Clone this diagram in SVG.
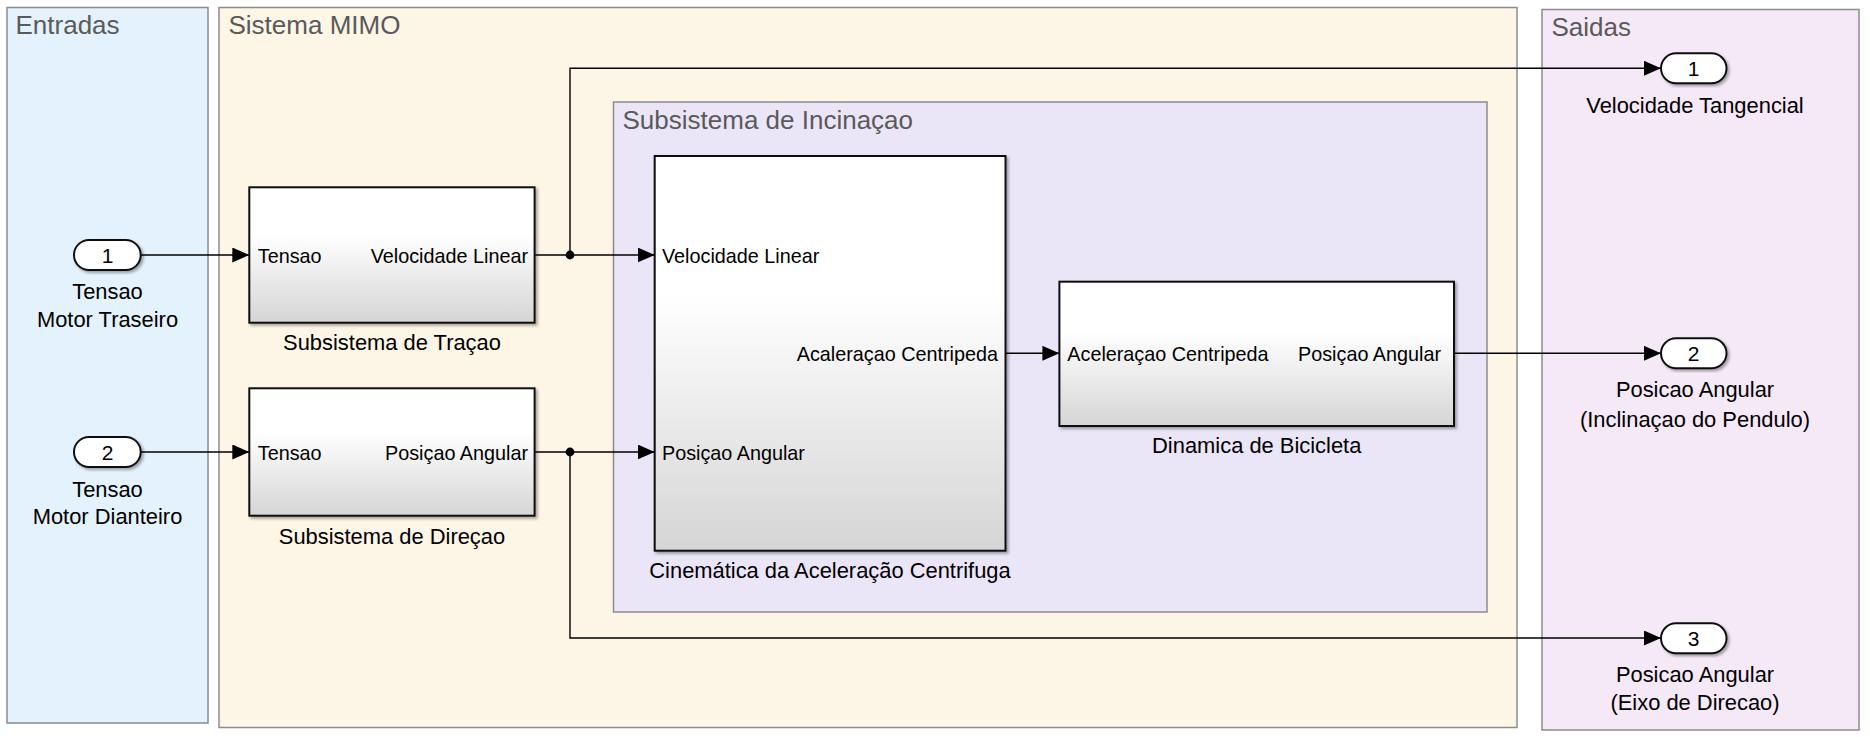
<svg xmlns="http://www.w3.org/2000/svg" width="1870" height="737" viewBox="0 0 1870 737">
<defs>
<style>
text{font-family:"Liberation Sans",Arial,sans-serif;fill:#000}
.title{font-size:26px;fill:#5a5a5a}
.lbl{font-size:21.9px;text-anchor:middle}
.port{font-size:19.8px}
.num{font-size:21px;text-anchor:middle}
.r{text-anchor:end}
.panel{stroke:#8c8c8c;stroke-width:1.5}
.blk{fill:url(#bg);stroke:#111;stroke-width:2;filter:url(#sh)}
.pill{fill:#fff;stroke:#111;stroke-width:2;filter:url(#sh)}
.wire{fill:none;stroke:#000;stroke-width:1.4}
.arr{marker-end:url(#ah)}
</style>
<linearGradient id="bg" x1="0" y1="0" x2="0" y2="1">
<stop offset="0" stop-color="#ffffff"/>
<stop offset="0.35" stop-color="#ffffff"/>
<stop offset="1" stop-color="#d5d5d5"/>
</linearGradient>
<filter id="sh" x="-5%" y="-5%" width="115%" height="120%">
<feDropShadow dx="2" dy="2" stdDeviation="1.5" flood-color="#000" flood-opacity="0.35"/>
</filter>
<marker id="ah" markerUnits="userSpaceOnUse" markerWidth="18" markerHeight="16" refX="17" refY="7.5" orient="auto">
<path d="M0,0 L17,7.5 L0,15 z" fill="#000"/>
</marker>
</defs>

<g id="panel-entradas">
<rect class="panel" x="7" y="7.5" width="201" height="715.5" fill="#e4f2fd"/>
<text class="title" x="15.5" y="33.5">Entradas</text>
</g>
<g id="panel-mimo">
<rect class="panel" x="219" y="7.5" width="1298" height="720" fill="#fdf5e6"/>
<text class="title" x="228.5" y="33.5">Sistema MIMO</text>
</g>
<g id="panel-saidas">
<rect class="panel" x="1542" y="9.5" width="317" height="720.5" fill="#f5e9f8"/>
<text class="title" x="1551.5" y="35.5">Saidas</text>
</g>
<g id="panel-inclinacao">
<rect class="panel" x="613.5" y="102" width="873.5" height="510" fill="#eae6f8"/>
<text class="title" x="622.5" y="128.5">Subsistema de Incinaçao</text>
</g>

<g id="connectors">
<path class="wire arr" d="M140.7,255 H249.3"/>
<path class="wire arr" d="M140.7,452 H249.3"/>
<path class="wire arr" d="M534.6,255 H654.7"/>
<path class="wire arr" d="M570,255 V68.3 H1661"/>
<path class="wire arr" d="M534.6,452 H654.7"/>
<path class="wire arr" d="M570,452 V638 H1661"/>
<path class="wire arr" d="M1005.5,353.3 H1059.4"/>
<path class="wire arr" d="M1454,353.3 H1661"/>
<circle cx="570" cy="255" r="4.4" fill="#000"/>
<circle cx="570" cy="452" r="4.4" fill="#000"/>
</g>

<g id="in1">
<rect class="pill" x="74" y="240" width="66.7" height="30" rx="15" ry="15"/>
<text class="num" x="107.5" y="262.5">1</text>
<text class="lbl" x="107.5" y="299">Tensao</text>
<text class="lbl" x="107.5" y="326.5">Motor Traseiro</text>
</g>
<g id="in2">
<rect class="pill" x="74" y="437" width="66.7" height="30" rx="15" ry="15"/>
<text class="num" x="107.5" y="459.5">2</text>
<text class="lbl" x="107.5" y="496.5">Tensao</text>
<text class="lbl" x="107.5" y="524">Motor Dianteiro</text>
</g>

<g id="tracao">
<rect class="blk" x="249.3" y="187.3" width="285.3" height="135.4"/>
<text class="port" x="257.8" y="262.5">Tensao</text>
<text class="port r" x="528" y="262.5">Velocidade Linear</text>
<text class="lbl" x="392" y="350">Subsistema de Traçao</text>
</g>
<g id="direcao">
<rect class="blk" x="249.3" y="388.3" width="285.3" height="127.4"/>
<text class="port" x="257.8" y="459.5">Tensao</text>
<text class="port r" x="528" y="459.5">Posiçao Angular</text>
<text class="lbl" x="392" y="544">Subsistema de Direçao</text>
</g>
<g id="cinematica">
<rect class="blk" x="654.7" y="156" width="350.8" height="394.7"/>
<text class="port" x="662" y="262.5">Velocidade Linear</text>
<text class="port" x="662" y="459.5">Posiçao Angular</text>
<text class="port r" x="998" y="360.7">Acaleraçao Centripeda</text>
<text class="lbl" x="830" y="578.3">Cinemática da Aceleração Centrifuga</text>
</g>
<g id="dinamica">
<rect class="blk" x="1059.4" y="281.7" width="394.6" height="144.3"/>
<text class="port" x="1067.3" y="360.7">Aceleraçao Centripeda</text>
<text class="port r" x="1441" y="360.7">Posiçao Angular</text>
<text class="lbl" x="1256.7" y="453.3">Dinamica de Bicicleta</text>
</g>

<g id="out1">
<rect class="pill" x="1661" y="53.3" width="65.5" height="30" rx="15" ry="15"/>
<text class="num" x="1693.7" y="75.8">1</text>
<text class="lbl" x="1695" y="112.7">Velocidade Tangencial</text>
</g>
<g id="out2">
<rect class="pill" x="1661" y="338.3" width="65.5" height="30" rx="15" ry="15"/>
<text class="num" x="1693.7" y="360.8">2</text>
<text class="lbl" x="1695" y="396.7">Posicao Angular</text>
<text class="lbl" x="1695" y="426.7">(Inclinaçao do Pendulo)</text>
</g>
<g id="out3">
<rect class="pill" x="1661" y="623.3" width="65.5" height="30" rx="15" ry="15"/>
<text class="num" x="1693.7" y="645.8">3</text>
<text class="lbl" x="1695" y="681.7">Posicao Angular</text>
<text class="lbl" x="1695" y="710">(Eixo de Direcao)</text>
</g>
</svg>
